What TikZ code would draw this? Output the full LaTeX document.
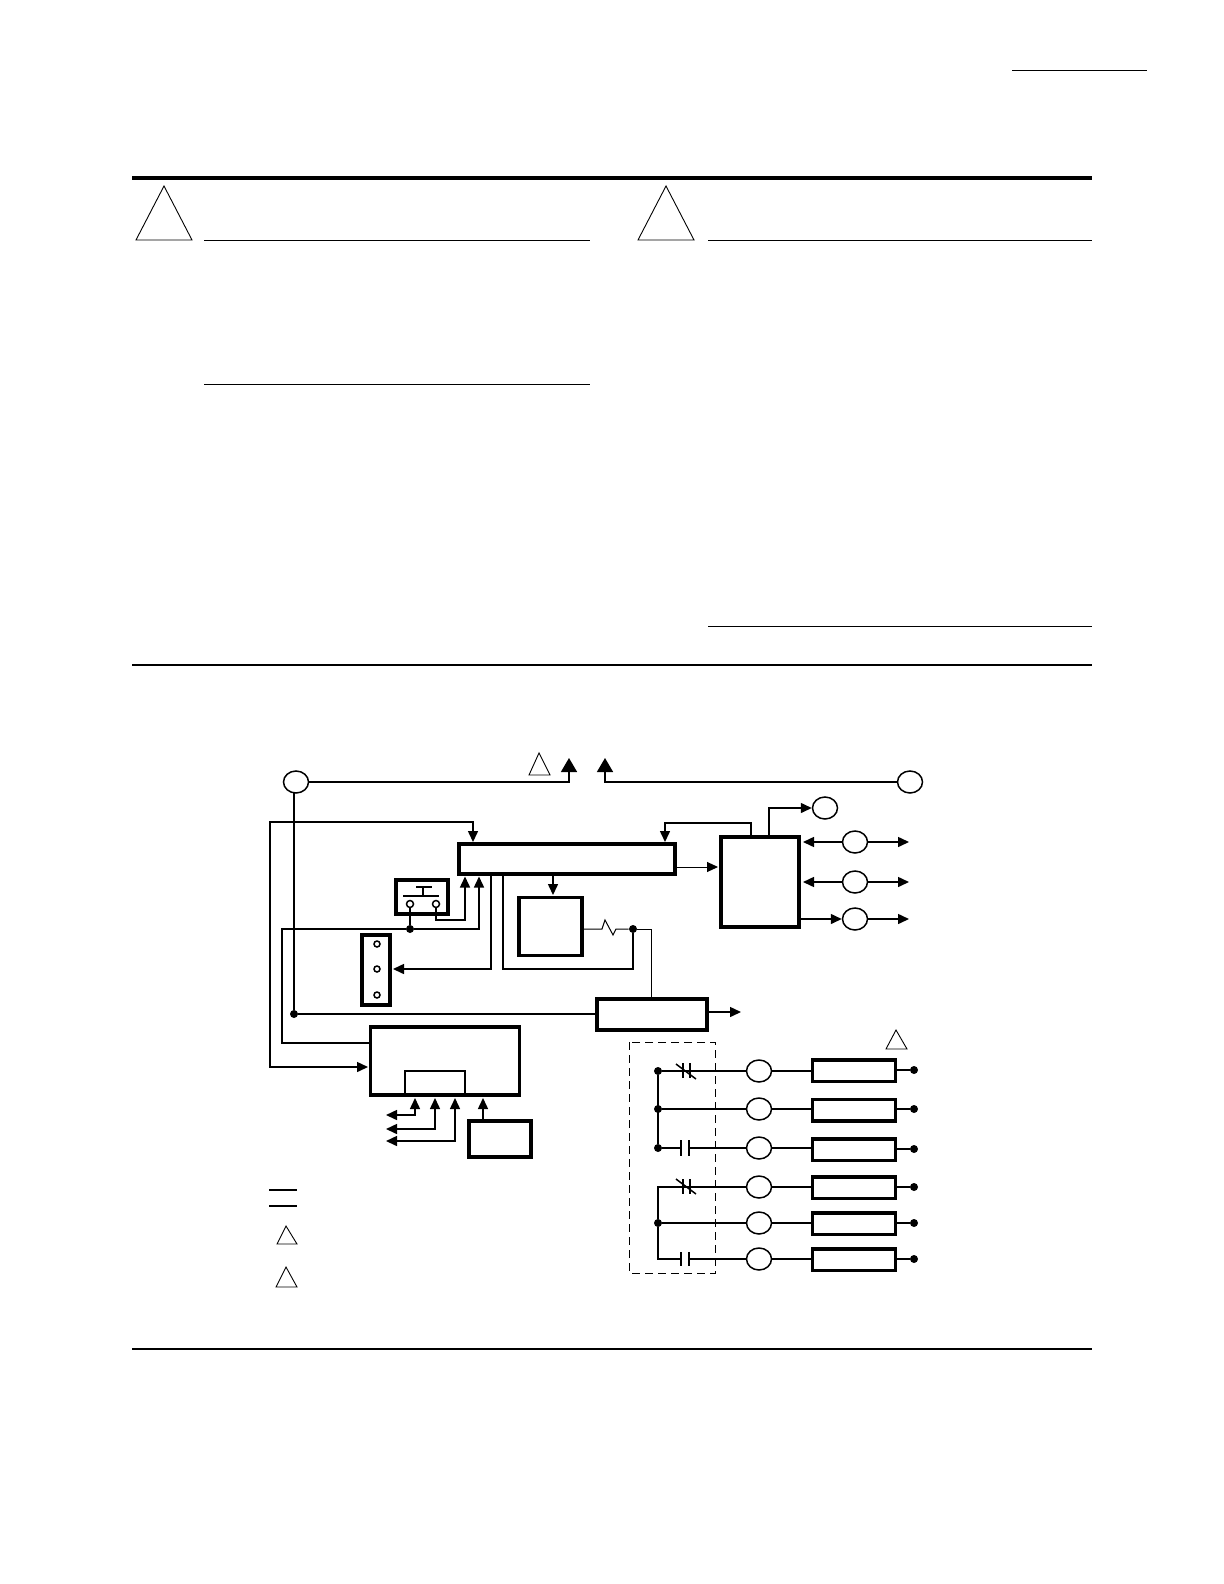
\documentclass[tikz,border=0pt]{standalone}
\usetikzlibrary{arrows.meta,shapes.geometric}
\tikzstyle{wire}=[line width=0.75pt]
\tikzstyle{thinwire}=[line width=0.5pt]
\tikzstyle{rule}=[line width=0.45pt]
\tikzstyle{warn}=[line width=0.45pt]
\tikzstyle{tipline}=[-{Triangle[length=5.5pt,width=5pt]}]
\tikzstyle{bothline}=[{Triangle[length=5.5pt,width=5pt]}-{Triangle[length=5.5pt,width=5pt]}]
\tikzstyle{bigtip}=[-{Triangle[length=7pt,width=8pt]}]
\tikzstyle{heavybox}=[draw, line width=1.8pt, inner sep=0pt]
\tikzstyle{coilbox}=[draw, line width=1.75pt, inner sep=0pt, minimum width=41.5pt, minimum height=10.75pt]
\tikzstyle{lamp}=[draw, ellipse, line width=0.75pt, inner sep=0pt, minimum width=12.5pt, minimum height=11pt]
\tikzstyle{dot}=[circle, fill, inner sep=0pt, minimum size=4pt]
\tikzstyle{term}=[draw, circle, line width=0.75pt, inner sep=0pt, minimum size=3.5pt]

\begin{document}
\begin{tikzpicture}[x=0.5pt, y=-0.5pt, black]
    \useasboundingbox (0,0) rectangle (1224,1584);
% Page rules
    \draw[rule] (1012,70.5) -- (1147,70.5);
    \draw[line width=2pt] (132,178) -- (1092,178);
    \draw[rule] (204,240.5) -- (590,240.5);
    \draw[rule] (708,240.5) -- (1092,240.5);
    \draw[rule] (204,384.5) -- (590,384.5);
    \draw[rule] (708,626.5) -- (1092,626.5);
    \draw[line width=0.9pt] (132,665) -- (1092,665);
    \draw[line width=0.9pt] (132,1349) -- (1092,1349);
% Warning triangles
    \draw[warn] (164,186) -- (136,240) -- (192,240) -- cycle;
    \draw[warn] (666,186) -- (638,240) -- (694,240) -- cycle;
    \draw[warn] (539,753) -- (529,775) -- (550,775) -- cycle;
    \draw[warn] (896,1030) -- (886,1049) -- (907,1049) -- cycle;
    \draw[warn] (286,1226) -- (277,1244) -- (297,1244) -- cycle;
    \draw[warn] (286,1267) -- (276,1287) -- (297,1287) -- cycle;
% Legend
    \draw[wire] (269,1190) -- (297,1190);
    \draw[wire] (269,1206) -- (297,1206);
% Boxes
    \node[heavybox, minimum width=108pt, minimum height=15pt] (main) at (567,859) {};
    \node[heavybox, minimum width=26pt, minimum height=17pt] (switch) at (422,897) {};
    \node[heavybox, minimum width=14pt, minimum height=35pt] (strip) at (376,970) {};
    \node[heavybox, minimum width=31.5pt, minimum height=29pt] (relay) at (550.5,926.5) {};
    \node[heavybox, minimum width=55pt, minimum height=15.5pt] (driver) at (652,1014.5) {};
    \node[heavybox, line width=2.2pt, minimum width=39pt, minimum height=45pt] (logic) at (760,882) {};
    \node[heavybox, minimum width=74.5pt, minimum height=34pt] (timer) at (445,1061) {};
    \node[draw, line width=0.75pt, inner sep=0pt, minimum width=30pt, minimum height=12pt] (slot) at (435,1083) {};
    \node[heavybox, minimum width=31pt, minimum height=18pt] (sensor) at (500,1139) {};
% Terminals and lamps
    \node[lamp] (lineL) at (296,782) {};
    \node[lamp] (lineR) at (910,782) {};
    \node[lamp] (lampA) at (825,808) {};
    \node[lamp] (lampB) at (855,842) {};
    \node[lamp] (lampC) at (855,882) {};
    \node[lamp] (lampD) at (855,919) {};
    \node[term] (termA) at (410,904) {};
    \node[term] (termB) at (436,904) {};
    \node[term, minimum size=3pt] (pinA) at (377,944) {};
    \node[term, minimum size=3pt] (pinB) at (377,969) {};
    \node[term, minimum size=3pt] (pinC) at (377,995) {};
% Junctions
    \node[dot] (dotSupply) at (294,1014) {};
    \node[dot] (dotSwitch) at (410,929) {};
    \node[dot] (dotRelay) at (633,929) {};
% Free ends
    \coordinate (upL) at (569,758);
    \coordinate (upR) at (605,758);
    \coordinate (mainTopL) at (473,842);
    \coordinate (mainTopR) at (665,842);
    \coordinate (mainInA) at (465,876.5);
    \coordinate (mainInB) at (479,876.5);
    \coordinate (mainOutA) at (491,874);
    \coordinate (mainOutB) at (503,874);
    \coordinate (mainOutC) at (553,874);
    \coordinate (mainOutD) at (676,867);
    \coordinate (logicIn) at (718,867);
    \coordinate (logicTopA) at (751,836);
    \coordinate (logicTopB) at (769,836);
    \coordinate (logicOutD) at (800,919);
    \coordinate (stripIn) at (393,969);
    \coordinate (relayIn) at (553,895);
    \coordinate (relayOut) at (582,929);
    \coordinate (driverOut) at (709,1012);
    \coordinate (driverTip) at (741,1012);
    \coordinate (timerInA) at (368,1067);
    \coordinate (timerOut) at (370,1043);
    \coordinate (timerInB) at (415,1098);
    \coordinate (timerInC) at (435,1098);
    \coordinate (timerInD) at (455,1098);
    \coordinate (timerInE) at (483,1098);
    \coordinate (leftA) at (386,1115);
    \coordinate (leftB) at (386,1129);
    \coordinate (leftC) at (386,1141);
    \coordinate (tipB) at (803,842);
    \coordinate (tipC) at (803,882);
    \coordinate (outB) at (909,842);
    \coordinate (outC) at (909,882);
    \coordinate (outD) at (909,919);
% Wires
    \draw[wire, bigtip] (lineL.east) -| (upL);
    \draw[wire, bigtip] (lineR.west) -| (upR);
    \draw[wire] (294,793) -- (dotSupply);
    \draw[wire] (dotSupply) -- (driver.west |- dotSupply);
    \draw[wire, bothline] (timerInA) -| (270,822) -| (mainTopL);
    \draw[wire] (termA) -- (dotSwitch);
    \draw[wire, tipline] (termB.south) |- (465,920) -- (mainInA);
    \draw[wire, tipline] (timerOut) -| (282,929) -- (dotSwitch) -| (mainInB);
    \draw[wire, tipline] (mainOutA) |- (stripIn);
    \draw[wire] (mainOutB) |- (633,969) -- (dotRelay);
    \draw[wire, tipline] (mainOutC) -- (relayIn);
    \draw[thinwire] (relayOut) -- (602,929) -- (605,920) -- (613,935) -- (616,929) -- (dotRelay);
    \draw[thinwire] (dotRelay) -| (651,998);
    \draw[wire, tipline] (driverOut) -- (driverTip);
    \draw[thinwire, tipline] (mainOutD) -- (logicIn);
    \draw[wire, tipline] (logicTopA) -- ++(0,-13) -| (mainTopR);
    \draw[wire, tipline] (logicTopB) |- (lampA.west);
    \draw[wire, tipline] (lampB.west) -- (tipB);
    \draw[wire, tipline] (lampC.west) -- (tipC);
    \draw[wire, tipline] (logicOutD) -- (lampD.west);
    \draw[wire, tipline] (lampB.east) -- (outB);
    \draw[wire, tipline] (lampC.east) -- (outC);
    \draw[wire, tipline] (lampD.east) -- (outD);
    \draw[wire, bothline] (leftA) -| (timerInB);
    \draw[wire, bothline] (leftB) -| (timerInC);
    \draw[wire, bothline] (leftC) -| (timerInD);
    \draw[wire, tipline] (sensor.north -| timerInE) -- (timerInE);
% Push button
    \draw[wire] (416,887) -- (432,887);
    \draw[wire] (423,887) -- (423,896);
    \draw[wire] (403,896) -- (439,896);
% Output rows
    \draw[thinwire, dash pattern=on 4pt off 2.5pt] (629,1042) rectangle (715.5,1273);
    \node[dot] (startA) at (658,1071) {};
    \node[dot] (startB) at (658,1109) {};
    \node[dot] (startC) at (658,1148) {};
    \coordinate (startD) at (658,1187);
    \node[dot] (startE) at (658,1223) {};
    \coordinate (startF) at (658,1259);
    \node[lamp] (relayA) at (759,1071) {};
    \node[lamp] (relayB) at (759,1109) {};
    \node[lamp] (relayC) at (759,1148) {};
    \node[lamp] (relayD) at (759,1187) {};
    \node[lamp] (relayE) at (759,1223) {};
    \node[lamp] (relayF) at (759,1259) {};
    \node[coilbox] (coilA) at (854,1070.5) {};
    \node[coilbox] (coilB) at (854,1110) {};
    \node[coilbox] (coilC) at (854,1149.5) {};
    \node[coilbox] (coilD) at (854,1187.5) {};
    \node[coilbox] (coilE) at (854,1223.5) {};
    \node[coilbox] (coilF) at (854,1259.5) {};
    \node[dot] (endA) at (914,1070) {};
    \node[dot] (endB) at (914,1109) {};
    \node[dot] (endC) at (914,1149) {};
    \node[dot] (endD) at (914,1187) {};
    \node[dot] (endE) at (914,1223) {};
    \node[dot] (endF) at (914,1259) {};
    \draw[wire] (startA) -- (startC);
    \draw[wire, line cap=rect] (startD) -- (startE) -- (startF);
    \draw[wire] (startA) -- (relayA);
    \draw[wire] (startB) -- (relayB);
    \draw[wire] (startC) -- (681,1148);
    \draw[wire] (689,1148) -- (relayC);
    \draw[wire] (startD) -- (relayD);
    \draw[wire] (startE) -- (relayE);
    \draw[wire] (startF) -- (681,1259);
    \draw[wire] (689,1259) -- (relayF);
    \draw[wire] (relayA) -- (coilA.west |- relayA);
    \draw[wire] (relayB) -- (coilB.west |- relayB);
    \draw[wire] (relayC) -- (coilC.west |- relayC);
    \draw[wire] (relayD) -- (coilD.west |- relayD);
    \draw[wire] (relayE) -- (coilE.west |- relayE);
    \draw[wire] (relayF) -- (coilF.west |- relayF);
    \draw[wire] (coilA.east |- endA) -- (endA);
    \draw[wire] (coilB.east |- endB) -- (endB);
    \draw[wire] (coilC.east |- endC) -- (endC);
    \draw[wire] (coilD.east |- endD) -- (endD);
    \draw[wire] (coilE.east |- endE) -- (endE);
    \draw[wire] (coilF.east |- endF) -- (endF);
% Contacts
    \draw[wire] (683,1063) -- (683,1078);
    \draw[wire] (690,1063) -- (690,1078);
    \draw[wire] (676,1064) -- (696,1079);
    \draw[wire] (681,1140) -- (681,1156);
    \draw[wire] (689,1140) -- (689,1156);
    \draw[wire] (683,1179) -- (683,1194);
    \draw[wire] (690,1179) -- (690,1194);
    \draw[wire] (676,1179) -- (696,1194);
    \draw[wire] (681,1252) -- (681,1266);
    \draw[wire] (689,1252) -- (689,1266);

\end{tikzpicture}
\end{document}
